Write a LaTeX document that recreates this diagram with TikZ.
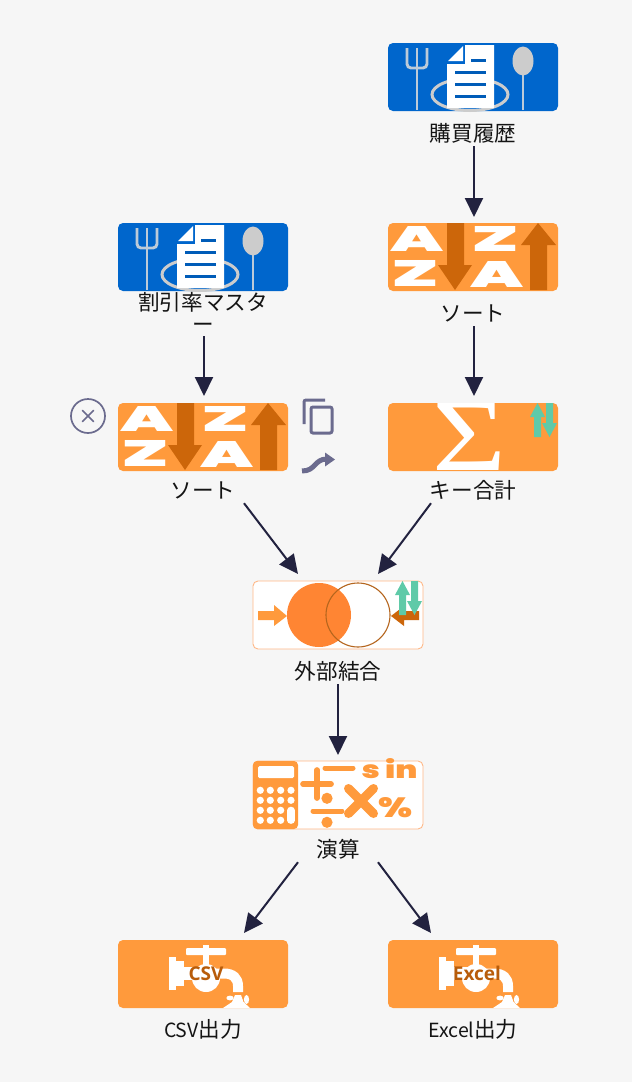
\documentclass[tikz,border=0pt]{standalone}
\usepackage{fontspec}
\usepackage{graphicx}
\usetikzlibrary{arrows.meta,calc}
\newfontfamily\jpfont{Noto Sans CJK JP}
\newfontfamily\heavy{Poppins}[UprightFont=* Black]
\newfontfamily\lserif{Liberation Serif}
\newfontfamily\nsans{Open Sans}[UprightFont=* Bold]
\definecolor{pagebg}{HTML}{F6F6F6}
\definecolor{blueb}{HTML}{0066CC}
\definecolor{orangeb}{HTML}{FF9A3C}
\definecolor{darko}{HTML}{CC660A}
\definecolor{tealc}{HTML}{5FCAA8}
\definecolor{navy}{HTML}{22223F}
\definecolor{edgeo}{HTML}{FFB887}
\definecolor{grayi}{HTML}{6B6B8E}
\definecolor{utensil}{HTML}{BCCBD9}
\definecolor{vennf}{HTML}{FF8533}
\definecolor{vennl}{HTML}{B5651D}
\definecolor{labelo}{HTML}{B85C0A}
\tikzset{
  x=1pt,y=-1pt,
  iconbox/.style={minimum width=170pt,minimum height=68pt,inner sep=0pt,rounded corners=5pt,outer sep=0pt},
  solidblue/.style={iconbox,fill=blueb},
  solidorange/.style={iconbox,fill=orangeb},
  paleorange/.style={iconbox,fill=white,draw=edgeo,line width=0.9pt},
  lbl/.style={inner sep=0pt,minimum height=26pt,text height=19pt,text depth=2pt,font=\jpfont\fontsize{21.6}{22}\selectfont,text=black!92},
  conn/.style={draw=navy,line width=2pt,-{Triangle[length=19pt,width=18pt]}},
  ctrl/.style={draw=grayi,line width=3pt,fill=none},
  tapname/.style={inner sep=0pt,text=labelo,font=\nsans\fontsize{19}{19}\selectfont}
}
\newcommand\latinpart[1]{{\fontsize{19.5}{22}\selectfont #1}}
\newcounter{gl}
\newcommand\fitglyph[6]{\stepcounter{gl}\node[name=g\thegl,inner sep=0pt,text=#5] at (#1,#2) {\resizebox{#3pt}{#4pt}{#6}};}
\newcommand\iconDoc{%
  \draw[utensil,line width=2.9pt,rounded corners=4pt] (19,5)--(19,25)--(39,25)--(39,5);
  \draw[utensil,line width=2.9pt] (29,5)--(29,67);
  \draw[utensil,line width=2.9pt] (135,25)--(135,67);
  \fill[black!20] (135,18) ellipse [x radius=10.5,y radius=14.5];
  \draw[black!20,line width=3pt] (82,51.5) ellipse [x radius=38,y radius=16];
  \fill[white] (59,65)--(106,65)--(106,2)--(77,2)--(77,21)--(59,21)--cycle;
  \fill[white] (60,18)--(75,3)--(75,18)--cycle;
  \draw[blueb!90!black,line width=3.2pt] (83,17.3)--(98,17.3) (67,29.3)--(98,29.3) (67,41.3)--(98,41.3) (67,53.3)--(98,53.3);
}
\newcommand\iconSort{%
  \fitglyph{29}{15.5}{53}{25}{white}{\heavy A}
  \fitglyph{28}{50}{48}{26}{white}{\heavy Z}
  \fitglyph{108}{15.5}{48}{25}{white}{\heavy Z}
  \fitglyph{109}{51}{53}{26}{white}{\heavy A}
  \fill[darko] (59,0)--(76,0)--(76,42)--(84,42)--(67,67)--(50,42)--(59,42)--cycle;
  \fill[darko] (142,67)--(159,67)--(159,22)--(168,22)--(150,0)--(133,22)--(142,22)--cycle;
}
\newcommand\tealArrows{%
  \fill[tealc] (146,34)--(153,34)--(153,14)--(157,14)--(149.5,0)--(142,14)--(146,14)--cycle;
  \fill[tealc] (158,0)--(165,0)--(165,20)--(169,20)--(161.5,34)--(154,20)--(158,20)--cycle;
}
\newcommand\iconSum{%
  \fitglyph{81}{33.5}{74}{67}{white}{\lserif Σ}
  \tealArrows
}
\newcommand\iconJoin{%
  \fill[vennf] (66,34) circle [radius=32];
  \draw[vennl,line width=1.1pt] (105,34) circle [radius=32];
  \fill[orangeb] (5,30)--(21,30)--(21,24)--(34,35)--(21,45)--(21,39)--(5,39)--cycle;
  \fill[darko] (166,30)--(151,30)--(151,25)--(138,35)--(151,45)--(151,39)--(166,39)--cycle;
  \tealArrows
}
\newcommand\iconCalc{%
  \fill[orangeb,rounded corners=4pt] (0,0) rectangle (45,68);
  \fill[white,rounded corners=1.5pt] (5,5) rectangle (41,17);
  \foreach \px in {7.3,17.3,27.7}{\foreach \py in {29.3,39.3,49.3,59.3}{\fill[white] (\px,\py) circle [radius=3.6];}}
  \fill[white] (38,29.3) circle [radius=3.6] (38,39.3) circle [radius=3.6];
  \draw[white,line width=7.2pt,line cap=round] (38,49.3)--(38,59.3);
  \draw[orangeb,line width=5.7pt,line cap=round] (50,23)--(78,23) (64,9)--(64,37);
  \draw[orangeb,line width=5pt,line cap=round] (72,7)--(100,7) (60,50)--(89,50);
  \fill[orangeb] (74,37.3) circle [radius=5.6] (74,61.3) circle [radius=5.6];
  \draw[orangeb,line width=9pt,line cap=round] (95.5,27.5)--(120.5,52.5) (120.5,27.5)--(95.5,52.5);
  \fitglyph{136.5}{7.5}{56}{20}{orangeb}{\heavy s in}
  \fitglyph{142}{46.5}{34}{20}{orangeb}{\heavy\%}
}
\newcommand\iconTap[1]{%
  \fill[white,rounded corners=1pt] (68,8) rectangle (108,15);
  \fill[white] (85,5) rectangle (91,25);
  \fill[white] (88,38) circle [radius=14];
  \fill[white] (51,17) rectangle (58,50);
  \fill[white] (58,21) rectangle (66,46);
  \fill[white] (66,27) rectangle (90,40);
  \draw[white,line width=10pt] (90,33.5)--(106,33.5) .. controls (115,33.5) and (120,38) .. (120,46) -- (120,52);
  \fill[white] (117,55)--(123,55)--(125.5,62)--(132,68)--(105,68)--(114,62)--cycle;
  \fill[white] (112,58) ellipse [x radius=3.6,y radius=2.4];
  \fill[white] (128.5,59.5) ellipse [x radius=2.6,y radius=4.5];
  #1
}
\begin{document}
\begin{tikzpicture}
\useasboundingbox (0,0) rectangle (632,1082);
\fill[pagebg] (0,0) rectangle (632,1082);

\node[solidblue] (buy) at (473,77) {};
\node[solidorange] (sortR) at (473,257) {};
\node[solidblue] (master) at (203,257) {};
\node[solidorange] (sortL) at (203,437) {};
\node[solidorange] (sum) at (473,437) {};
\node[paleorange] (join) at (338,615) {};
\node[paleorange] (calc) at (338,795) {};
\node[solidorange] (csv) at (203,974) {};
\node[solidorange] (excel) at (473,974) {};

\begin{scope}[shift={(buy.north west)}]\iconDoc\end{scope}
\begin{scope}[shift={(master.north west)}]\iconDoc\end{scope}
\begin{scope}[shift={(sortR.north west)}]\iconSort\end{scope}
\begin{scope}[shift={(sortL.north west)}]\iconSort\end{scope}
\begin{scope}[shift={(sum.north west)}]\iconSum\end{scope}
\begin{scope}[shift={(join.north west)}]\iconJoin\end{scope}
\begin{scope}[shift={(calc.north west)}]\iconCalc\end{scope}
\begin{scope}[shift={(csv.north west)}]\iconTap{\node[tapname] (csvtxt) at (88,33.5) {CSV};}\end{scope}
\begin{scope}[shift={(excel.north west)}]\iconTap{\node[tapname] (exceltxt) at (89,33.5) {Excel};}\end{scope}

\node[lbl] (lblBuy) at (473,133) {購買履歴};
\node[lbl] (lblSortR) at (473,313) {ソート};
\node[lbl,align=center,text height=,text depth=,anchor=south] (lblMaster) at (203,333) {割引率マスタ\\ー};
\node[lbl] (lblSortL) at (203,490) {ソート};
\node[lbl] (lblSum) at (473,490) {キー合計};
\node[lbl] (lblJoin) at (338,671) {外部結合};
\node[lbl] (lblCalc) at (338,849) {演算};
\node[lbl] (lblCsv) at (203,1029) {\latinpart{CSV}出力};
\node[lbl] (lblExcel) at (473,1029) {\latinpart{Excel}出力};

\draw[conn] ([xshift=1pt]lblBuy.south) -- ([xshift=1pt,yshift=6pt]sortR.north);
\draw[conn] ([xshift=1pt]lblSortR.south) -- ([xshift=1pt,yshift=7pt]sum.north);
\draw[conn] ([xshift=1pt,yshift=-3pt]lblMaster.south) -- ([xshift=1pt,yshift=7pt]sortL.north);
\draw[conn] ([xshift=41pt]lblSortL.south) -- ([xshift=-40pt,yshift=7pt]join.north);
\draw[conn] ([xshift=-42pt]lblSum.south) -- ([xshift=40pt,yshift=7pt]join.north);
\draw[conn] (lblJoin.south) -- ([yshift=6pt]calc.north);
\draw[conn] ([xshift=-40pt]lblCalc.south) -- ([xshift=41pt,yshift=7pt]csv.north);
\draw[conn] ([xshift=40pt]lblCalc.south) -- ([xshift=-42pt,yshift=7pt]excel.north);

% controls beside the selected node
\draw[grayi,line width=1.7pt] (88,416) circle [radius=17];
\draw[grayi,line width=1.7pt,line cap=round] (82.5,410.5)--(93.5,421.5) (93.5,410.5)--(82.5,421.5);
\draw[ctrl,rounded corners=2pt] (304,424)--(304,400)--(325,400);
\draw[ctrl,rounded corners=2pt] (311,407) rectangle (332,433);
\draw[grayi,line width=5pt] (302,471) .. controls (316,471) and (314,459) .. (327,459);
\fill[grayi] (325,452.5)--(335,459.5)--(325,466.5)--cycle;
\end{tikzpicture}
\end{document}
